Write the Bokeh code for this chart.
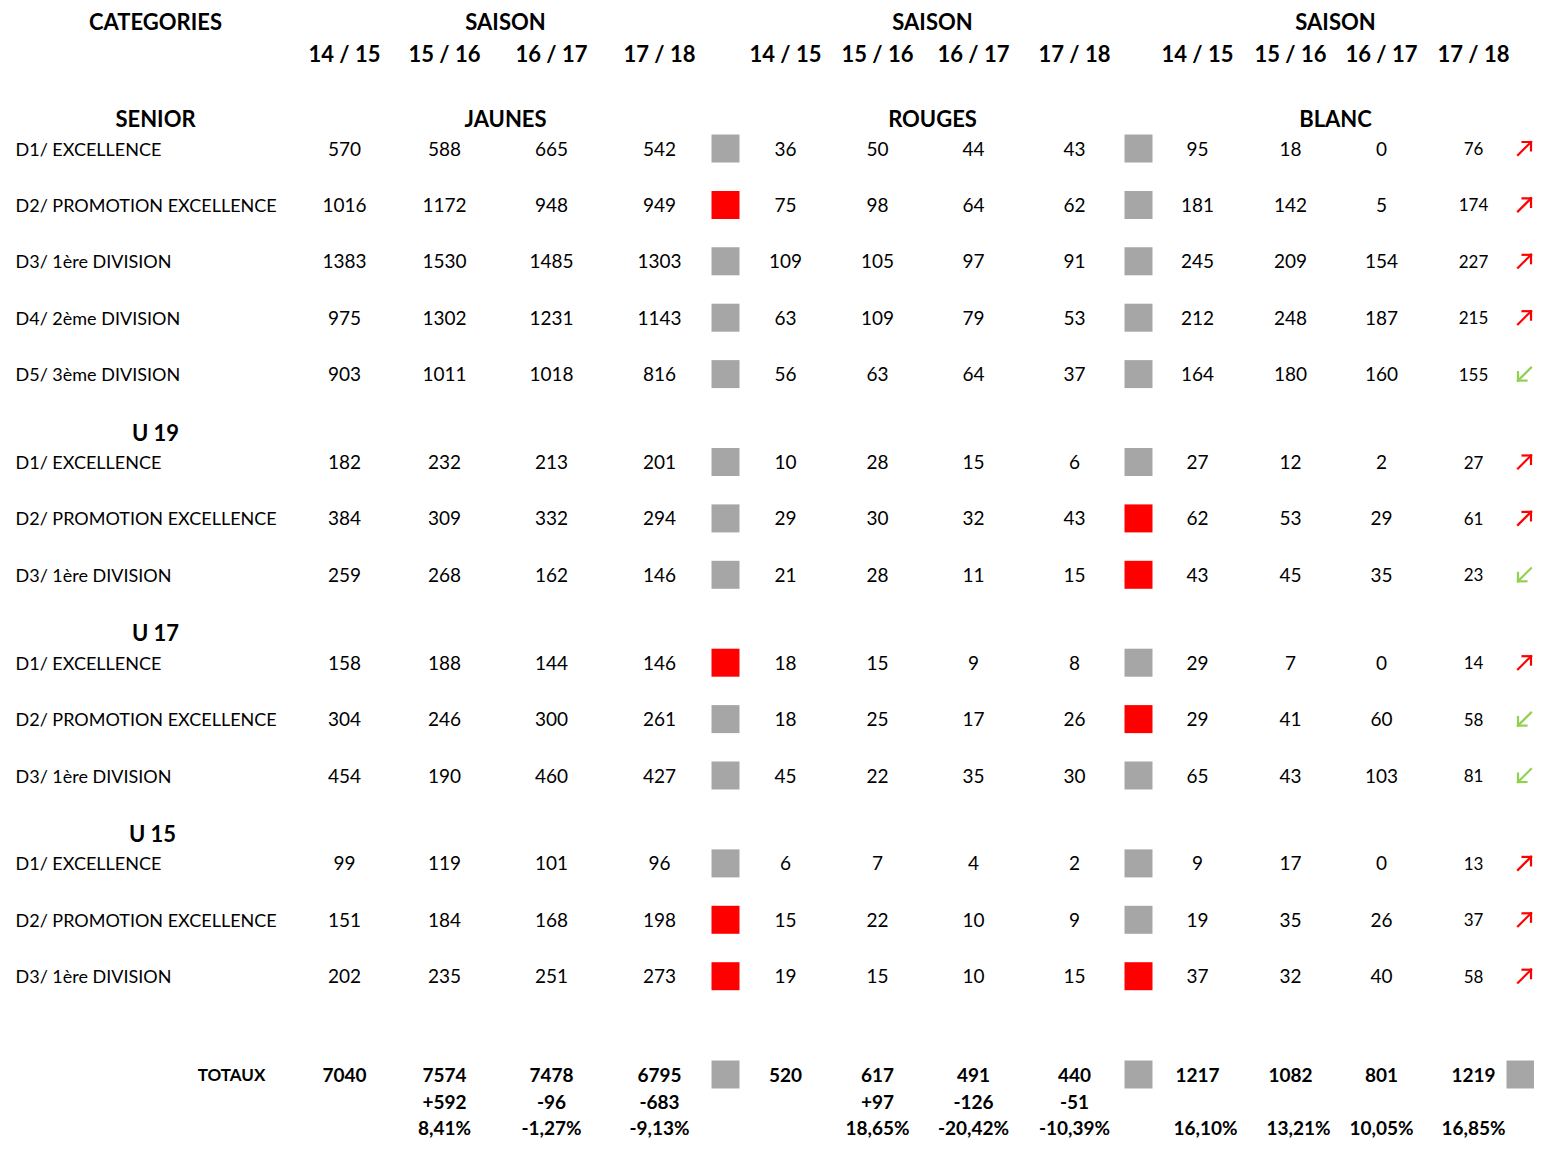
from bokeh.plotting import figure
from bokeh.models import ColumnDataSource, Range1d
from bokeh.core.properties import value
from bokeh.embed import file_html
from bokeh.resources import INLINE

# ---------------- data ----------------
seasons = ["14 / 15", "15 / 16", "16 / 17", "17 / 18"]
groups = ["JAUNES", "ROUGES", "BLANC"]
sections = ["SENIOR", "U 19", "U 17", "U 15"]
section_sizes = [5, 3, 3, 3]
row_labels = [
    "D1/ EXCELLENCE", "D2/ PROMOTION EXCELLENCE", "D3/ 1ère DIVISION", "D4/ 2ème DIVISION", "D5/ 3ème DIVISION",
    "D1/ EXCELLENCE", "D2/ PROMOTION EXCELLENCE", "D3/ 1ère DIVISION",
    "D1/ EXCELLENCE", "D2/ PROMOTION EXCELLENCE", "D3/ 1ère DIVISION",
    "D1/ EXCELLENCE", "D2/ PROMOTION EXCELLENCE", "D3/ 1ère DIVISION",
]
jaunes = [
    [570, 588, 665, 542], [1016, 1172, 948, 949], [1383, 1530, 1485, 1303], [975, 1302, 1231, 1143],
    [903, 1011, 1018, 816],
    [182, 232, 213, 201], [384, 309, 332, 294], [259, 268, 162, 146],
    [158, 188, 144, 146], [304, 246, 300, 261], [454, 190, 460, 427],
    [99, 119, 101, 96], [151, 184, 168, 198], [202, 235, 251, 273],
]
rouges = [
    [36, 50, 44, 43], [75, 98, 64, 62], [109, 105, 97, 91], [63, 109, 79, 53], [56, 63, 64, 37],
    [10, 28, 15, 6], [29, 30, 32, 43], [21, 28, 11, 15],
    [18, 15, 9, 8], [18, 25, 17, 26], [45, 22, 35, 30],
    [6, 7, 4, 2], [15, 22, 10, 9], [19, 15, 10, 15],
]
blanc = [
    [95, 18, 0, 76], [181, 142, 5, 174], [245, 209, 154, 227], [212, 248, 187, 215], [164, 180, 160, 155],
    [27, 12, 2, 27], [62, 53, 29, 61], [43, 45, 35, 23],
    [29, 7, 0, 14], [29, 41, 60, 58], [65, 43, 103, 81],
    [9, 17, 0, 13], [19, 35, 26, 37], [37, 32, 40, 58],
]
# flag squares: 1 = red, 0 = grey
flag_jaunes = [0, 1, 0, 0, 0, 0, 0, 0, 1, 0, 0, 0, 1, 1]
flag_rouges = [0, 0, 0, 0, 0, 0, 1, 1, 0, 1, 0, 0, 0, 1]
# trend arrows: 1 = up (red), 0 = down (green)
trend_blanc = [1, 1, 1, 1, 0, 1, 1, 0, 1, 0, 0, 1, 1, 1]

totals_jaunes = [7040, 7574, 7478, 6795]
totals_rouges = [520, 617, 491, 440]
totals_blanc = [1217, 1082, 801, 1219]
delta_jaunes = ["", "+592", "-96", "-683"]
delta_rouges = ["", "+97", "-126", "-51"]
pct_jaunes = ["", "8,41%", "-1,27%", "-9,13%"]
pct_rouges = ["", "18,65%", "-20,42%", "-10,39%"]
pct_blanc = ["16,10%", "13,21%", "10,05%", "16,85%"]

# ---------------- layout ----------------
FONT = "Lato"
GREY = "#A6A6A6"
RED = "#FF0000"
GREEN = "#92D050"

col_x = [[344, 444, 551, 659], [785, 877, 973, 1074], [1197, 1290, 1381, 1473]]
group_center_x = [505, 932, 1335]
square_x = [725, 1138, 1520]
square_w = [28, 28, 28]
arrow_x = 1524
arrow_half = 6.5
label_x = 15
cat_x = 155
y_title = 23
y_seasons = 55
first_row_y = 150
row_step = 56.4
section_gap = 31.5
header_offset = 30
y_tot = 1076
y_delta = 1103
y_pct = 1129

p = figure(width=1534, height=1144, output_backend="svg", toolbar_location=None,
           x_range=Range1d(0, 1534), y_range=Range1d(1146, 2), min_border=0)
p.axis.visible = False
p.grid.visible = False
p.outline_line_color = None
p.background_fill_color = "white"


def txt(xs, ys, texts, size, bold=False, align="center", color="black"):
    src = ColumnDataSource(dict(x=list(xs), y=list(ys), t=[str(s) for s in texts]))
    p.text("x", "y", "t", source=src, text_font=value(FONT), text_font_size=value(size),
           text_font_style="bold" if bold else "normal", text_align=align,
           text_baseline="middle", text_color=color)


# row positions
row_y = []
sec_y = []
i = 0
for s, n in enumerate(section_sizes):
    base = first_row_y + row_step * i + section_gap * s
    sec_y.append(base - header_offset)
    for k in range(n):
        row_y.append(first_row_y + row_step * (i + k) + section_gap * s)
    i += n

# headers
txt([cat_x], [y_title], ["CATEGORIES"], "22px", bold=True)
txt(group_center_x, [y_title] * 3, ["SAISON"] * 3, "22px", bold=True)
sx, sy, st = [], [], []
for g in range(3):
    for c in range(4):
        sx.append(col_x[g][c]); sy.append(y_seasons); st.append(seasons[c])
txt(sx, sy, st, "22px", bold=True)
txt(group_center_x, [sec_y[0]] * 3, groups, "22px", bold=True)
txt([cat_x, cat_x, cat_x, cat_x - 3], sec_y, sections, "22px", bold=True)

# row labels
txt([label_x] * len(row_labels), row_y, row_labels, "18px", align="left")

# values
vx, vy, vt = [], [], []
bx, by, bt = [], [], []
for r in range(len(row_labels)):
    for g, data in enumerate([jaunes, rouges, blanc]):
        for c in range(4):
            if g == 2 and c == 3:
                bx.append(col_x[g][c]); by.append(row_y[r]); bt.append(data[r][c])
            else:
                vx.append(col_x[g][c]); vy.append(row_y[r]); vt.append(data[r][c])
txt(vx, vy, vt, "19px")
txt(bx, by, bt, "17px")

# squares
qx, qy, qc, qw = [], [], [], []
for r in range(len(row_labels)):
    qx.append(square_x[0]); qy.append(row_y[r]); qc.append(RED if flag_jaunes[r] else GREY); qw.append(square_w[0])
    qx.append(square_x[1]); qy.append(row_y[r]); qc.append(RED if flag_rouges[r] else GREY); qw.append(square_w[1])
for g in range(3):
    qx.append(square_x[g]); qy.append(y_tot); qc.append(GREY); qw.append(square_w[g])
p.rect(x=qx, y=qy, width=qw, height=28, fill_color=qc, line_color=None)

# arrows (shaft + two head strokes)
x0, y0, x1, y1, ac = [], [], [], [], []
h = arrow_half
for r in range(len(row_labels)):
    cx, cy = arrow_x, row_y[r]
    if trend_blanc[r]:
        tipx, tipy, tailx, taily, col = cx + h, cy - h, cx - h, cy + h, RED
        heads = [(tipx - 1.3 * h, tipy), (tipx, tipy + 1.3 * h)]
    else:
        tipx, tipy, tailx, taily, col = cx - h, cy + h, cx + h, cy - h, GREEN
        heads = [(tipx + 1.3 * h, tipy), (tipx, tipy - 1.3 * h)]
    x0.append(tailx); y0.append(taily); x1.append(tipx); y1.append(tipy); ac.append(col)
    for hx, hy in heads:
        x0.append(tipx); y0.append(tipy); x1.append(hx); y1.append(hy); ac.append(col)
p.segment(x0=x0, y0=y0, x1=x1, y1=y1, line_color=ac, line_width=2.2, line_cap="square")

# totals
txt([231], [y_tot], ["TOTAUX"], "17px", bold=True)
tx, ty, tt = [], [], []
for g, data in enumerate([totals_jaunes, totals_rouges, totals_blanc]):
    for c in range(4):
        tx.append(col_x[g][c]); ty.append(y_tot); tt.append(data[c])
for g, data in enumerate([delta_jaunes, delta_rouges]):
    for c in range(4):
        if data[c]:
            tx.append(col_x[g][c]); ty.append(y_delta); tt.append(data[c])
for g, data in enumerate([pct_jaunes, pct_rouges, pct_blanc]):
    for c in range(4):
        if data[c]:
            tx.append(col_x[g][c] + (8 if g == 2 and c < 2 else 0)); ty.append(y_pct); tt.append(data[c])
txt(tx, ty, tt, "19px", bold=True)

open("out.html", "w").write(file_html(p, INLINE))
